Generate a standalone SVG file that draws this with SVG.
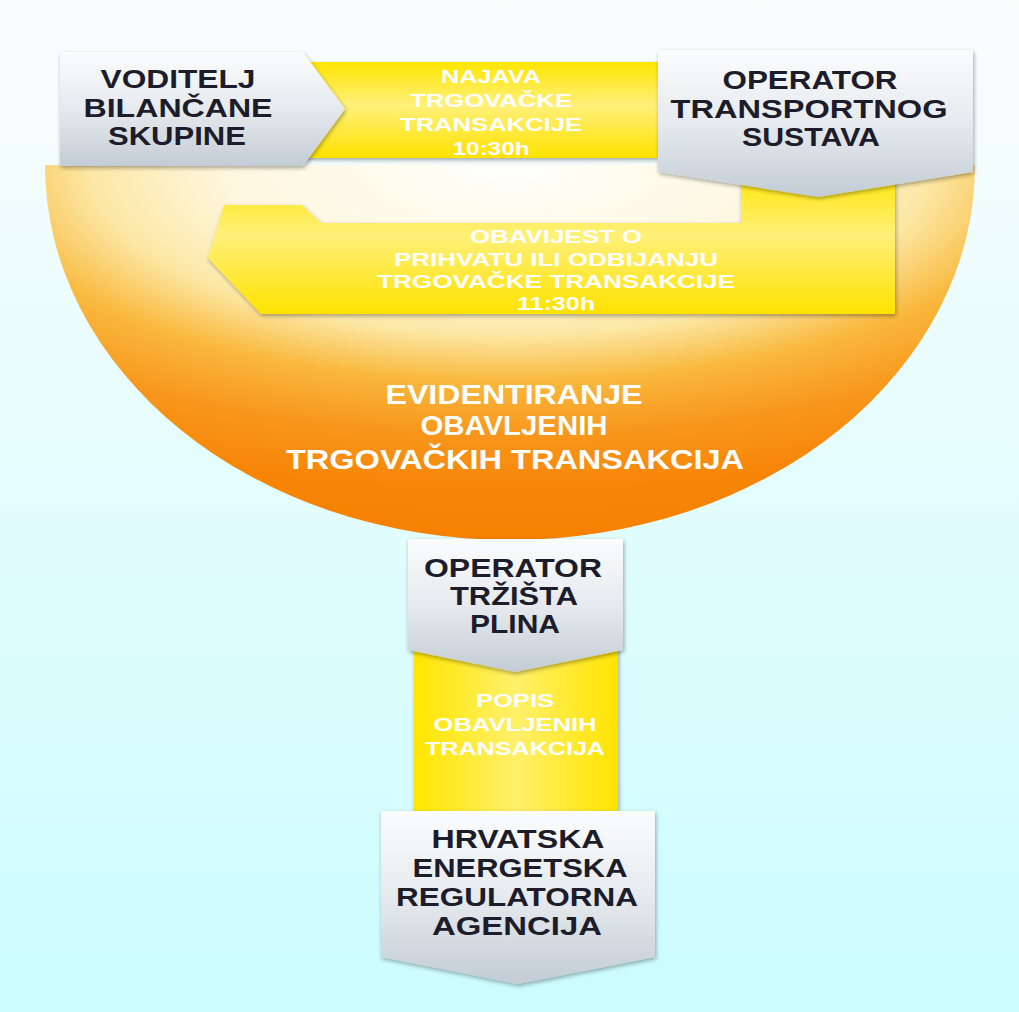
<svg xmlns="http://www.w3.org/2000/svg" width="1019" height="1012" viewBox="0 0 1019 1012">
<defs>
<linearGradient id="bg" x1="0" y1="0" x2="0" y2="1">
<stop offset="0" stop-color="#fbfdfd"/>
<stop offset="1" stop-color="#cbfcfe"/>
</linearGradient>
<radialGradient id="bowlG" cx="0.5" cy="0" r="1" fx="0.5" fy="0">
<stop offset="0" stop-color="#fffffa"/>
<stop offset="0.3" stop-color="#fef7e0"/>
<stop offset="0.45" stop-color="#fce8a6"/>
<stop offset="0.58" stop-color="#f9b83c"/>
<stop offset="0.72" stop-color="#f8961c"/>
<stop offset="0.86" stop-color="#f78608"/>
<stop offset="1" stop-color="#f78000"/>
</radialGradient>
<linearGradient id="yelH" x1="0" y1="0" x2="0" y2="1">
<stop offset="0" stop-color="#ffe600"/>
<stop offset="0.45" stop-color="#fff07a"/>
<stop offset="1" stop-color="#ffe200"/>
</linearGradient>
<linearGradient id="yelV" x1="0" y1="0" x2="1" y2="0">
<stop offset="0" stop-color="#ffe600"/>
<stop offset="0.5" stop-color="#fff06a"/>
<stop offset="1" stop-color="#ffe400"/>
</linearGradient>
<linearGradient id="gray" x1="0" y1="0" x2="0" y2="1">
<stop offset="0" stop-color="#fbfcfc"/>
<stop offset="0.5" stop-color="#e6eaee"/>
<stop offset="1" stop-color="#c3ccd5"/>
</linearGradient>
<filter id="sh" x="-10%" y="-10%" width="120%" height="130%">
<feGaussianBlur in="SourceAlpha" stdDeviation="2"/>
<feOffset dx="1" dy="2" result="b"/>
<feComponentTransfer><feFuncA type="linear" slope="0.35"/></feComponentTransfer>
<feMerge><feMergeNode/><feMergeNode in="SourceGraphic"/></feMerge>
</filter>
<style>
.dk{font-family:"Liberation Sans",Arial,sans-serif;font-weight:bold;font-size:25px;fill:#1c1c2a;text-anchor:middle}
.wt{font-family:"Liberation Sans",Arial,sans-serif;font-weight:bold;font-size:18px;fill:#ffffff;text-anchor:middle}
.bw{font-family:"Liberation Sans",Arial,sans-serif;font-weight:bold;font-size:28px;fill:#ffffff;text-anchor:middle}
</style>
</defs>
<rect x="0" y="0" width="1019" height="1012" fill="url(#bg)"/>

<g id="bowl">
<path d="M45,165 A465,375 0 0 0 975,165 Z" fill="url(#bowlG)"/>
<text class="bw" x="514" y="404" textLength="257" lengthAdjust="spacingAndGlyphs">EVIDENTIRANJE</text>
<text class="bw" x="514" y="435" textLength="187" lengthAdjust="spacingAndGlyphs">OBAVLJENIH</text>
<text class="bw" x="515" y="469" textLength="458" lengthAdjust="spacingAndGlyphs">TRGOVAČKIH TRANSAKCIJA</text>
</g>

<g id="connectors">
<g id="c1">
<rect x="300" y="62" width="358" height="96" fill="url(#yelH)" filter="url(#sh)"/>
<text class="wt" x="491" y="83" textLength="100" lengthAdjust="spacingAndGlyphs">NAJAVA</text>
<text class="wt" x="491" y="107" textLength="162" lengthAdjust="spacingAndGlyphs">TRGOVAČKE</text>
<text class="wt" x="491" y="131" textLength="182" lengthAdjust="spacingAndGlyphs">TRANSAKCIJE</text>
<text class="wt" x="491" y="155" textLength="77" lengthAdjust="spacingAndGlyphs">10:30h</text>
</g>
<g id="c2">
<path d="M741,170 L895,170 L895,314 L261,314 L208,258 L224,205 L302,205 L321,223 L741,223 Z" fill="url(#yelH)" filter="url(#sh)"/>
<text class="wt" x="556" y="243" textLength="172" lengthAdjust="spacingAndGlyphs">OBAVIJEST O</text>
<text class="wt" x="556" y="266" textLength="324" lengthAdjust="spacingAndGlyphs">PRIHVATU ILI ODBIJANJU</text>
<text class="wt" x="556" y="288" textLength="358" lengthAdjust="spacingAndGlyphs">TRGOVAČKE TRANSAKCIJE</text>
<text class="wt" x="556" y="310" textLength="78" lengthAdjust="spacingAndGlyphs">11:30h</text>
</g>
<g id="c3">
<rect x="414" y="640" width="204" height="172" fill="url(#yelV)" filter="url(#sh)"/>
<text class="wt" x="515" y="707" textLength="78" lengthAdjust="spacingAndGlyphs">POPIS</text>
<text class="wt" x="515" y="731" textLength="163" lengthAdjust="spacingAndGlyphs">OBAVLJENIH</text>
<text class="wt" x="515" y="755" textLength="180" lengthAdjust="spacingAndGlyphs">TRANSAKCIJA</text>
</g>
</g>

<g id="n1">
<path d="M60,52 L303,52 L345,109 L303,166 L60,166 Z" fill="url(#gray)" filter="url(#sh)"/>
<text class="dk" x="178" y="88" textLength="155" lengthAdjust="spacingAndGlyphs">VODITELJ</text>
<text class="dk" x="178" y="117" textLength="189" lengthAdjust="spacingAndGlyphs">BILANČANE</text>
<text class="dk" x="177" y="145" textLength="138" lengthAdjust="spacingAndGlyphs">SKUPINE</text>
</g>

<g id="n3">
<path d="M658,50 L973,50 L973,172 L818,197 L658,172 Z" fill="url(#gray)" filter="url(#sh)"/>
<text class="dk" x="810" y="89" textLength="175" lengthAdjust="spacingAndGlyphs">OPERATOR</text>
<text class="dk" x="809" y="118" textLength="277" lengthAdjust="spacingAndGlyphs">TRANSPORTNOG</text>
<text class="dk" x="811" y="146" textLength="138" lengthAdjust="spacingAndGlyphs">SUSTAVA</text>
</g>

<g id="n5">
<path d="M408,539 L623,539 L623,650 L515,672 L408,650 Z" fill="url(#gray)" filter="url(#sh)"/>
<text class="dk" x="513" y="577" textLength="178" lengthAdjust="spacingAndGlyphs">OPERATOR</text>
<text class="dk" x="514" y="605" textLength="128" lengthAdjust="spacingAndGlyphs">TRŽIŠTA</text>
<text class="dk" x="515" y="633" textLength="90" lengthAdjust="spacingAndGlyphs">PLINA</text>
</g>

<g id="n6">
<path d="M381,811 L655,811 L655,957 L518,984 L381,957 Z" fill="url(#gray)" filter="url(#sh)"/>
<text class="dk" x="518" y="848" textLength="173" lengthAdjust="spacingAndGlyphs">HRVATSKA</text>
<text class="dk" x="520" y="877" textLength="215" lengthAdjust="spacingAndGlyphs">ENERGETSKA</text>
<text class="dk" x="517" y="906" textLength="242" lengthAdjust="spacingAndGlyphs">REGULATORNA</text>
<text class="dk" x="517" y="935" textLength="170" lengthAdjust="spacingAndGlyphs">AGENCIJA</text>
</g>
</svg>
